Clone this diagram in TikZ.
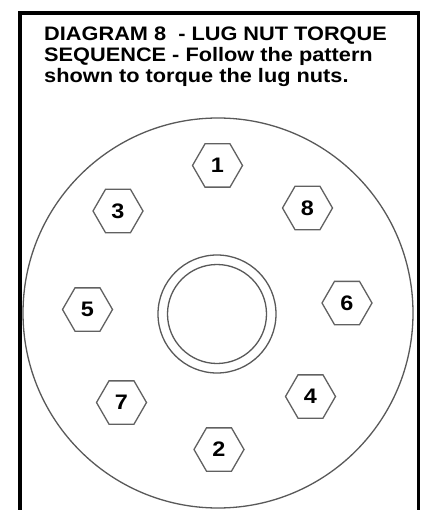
\documentclass[tikz,border=0pt]{standalone}
\usepackage{fontspec}
\setmainfont{Liberation Sans}
\newfontfamily\titlefont[FakeStretch=1.115]{Liberation Sans}
\usetikzlibrary{shapes.geometric}
\begin{document}
\begin{tikzpicture}[x=1pt,y=-1pt,
  ring/.style={draw=black!65, line width=1.3pt, circle, inner sep=0pt},
  nut/.style={draw=black!62, line width=1.3pt, regular polygon, regular polygon sides=6,
    minimum size=50pt, inner sep=0pt, font=\titlefont\fontsize{21}{21}\selectfont\bfseries},
  frameline/.style={line width=3.5pt, draw=black}]
\useasboundingbox (0,0) rectangle (422,510);
\clip (0,0) rectangle (422,510);
\fill[white] (0,0) rectangle (422,510);
\coordinate (fbl) at (20,530);
\coordinate (ftl) at (20,13);
\coordinate (ftr) at (418.5,13);
\coordinate (fbr) at (418.5,530);
\draw[frameline] (fbl) -- (ftl) -- (ftr) -- (fbr);
\node[anchor=north west, inner sep=0pt, align=left,
  font=\titlefont\fontsize{19.5}{20.6}\selectfont\bfseries] (title) at (44,27)
  {DIAGRAM 8\ \ - LUG NUT TORQUE\\SEQUENCE - Follow the pattern\\shown to torque the lug nuts.};
\node[ring, minimum size=390pt] (wheel) at (218,313) {};
\node[ring, minimum size=118pt] (hubo) at (217,314) {};
\node[ring, minimum size=99pt] (hubi) at (217,314) {};
\node[nut] (n1) at (217.5,165.5) {1};
\node[nut] (n2) at (219,449.5) {2};
\node[nut] (n3) at (118,211) {3};
\node[nut] (n4) at (310.5,396.5) {4};
\node[nut] (n5) at (87.5,309.5) {5};
\node[nut] (n6) at (347,303) {6};
\node[nut] (n7) at (121.5,402.5) {7};
\node[nut] (n8) at (307.5,208) {8};
\end{tikzpicture}
\end{document}
